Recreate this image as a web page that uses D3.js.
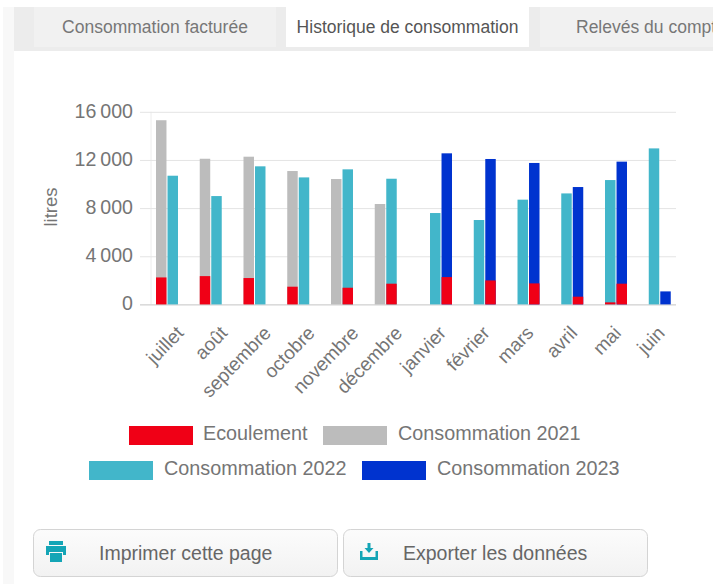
<!DOCTYPE html>
<html><head><meta charset="utf-8">
<script src="https://cdnjs.cloudflare.com/ajax/libs/d3/7.8.5/d3.min.js"></script>
<style>
html,body{margin:0;padding:0;background:#fff;overflow:hidden}
svg{display:block;font-family:"Liberation Sans",Arial,sans-serif}
</style></head><body><svg id="c" width="713" height="584"></svg>
<script>
const months=["juillet","août","septembre","octobre","novembre","décembre","janvier","février","mars","avril","mai","juin"];
const conso2021=[15300,12100,12270,11080,10415,8340,null,null,null,null,null,null];
const conso2022=[10690,9000,11470,10550,11220,10440,7590,7010,8700,9220,10330,12960];
const conso2023=[null,null,null,null,null,null,12550,12080,11750,9750,11860,1080];
const ecoulement2021=[2240,2350,2190,1470,null,null,null,null,null,null,null,null];
const ecoulement2022=[null,null,null,null,1385,1720,null,null,null,null,170,null];
const ecoulement2023=[null,null,null,null,null,null,2270,1990,1745,640,1720,null];
const yTicks=[0,4000,8000,12000,16000];
const tabs=["Consommation facturée","Historique de consommation","Relevés du compteur"];
const buttons=["Imprimer cette page","Exporter les données"];
const legendItems=[["Ecoulement","#f00016"],["Consommation 2021","#bcbcbc"],["Consommation 2022","#42b6ca"],["Consommation 2023","#0033cf"]];

const svg=d3.select("#c");
const textCol="#757575";
// page furniture
svg.append("rect").attr("width",713).attr("height",584).attr("fill","#fff");
svg.append("rect").attr("x",3).attr("width",11).attr("height",584).attr("fill","#f8f8f8");
svg.append("rect").attr("x",0).attr("y",0).attr("width",713).attr("height",7).attr("fill","#fff");
svg.append("rect").attr("x",14).attr("y",7).attr("width",699).attr("height",44).attr("fill","#ececec");
const tabX=[[34,276],[286,529],[540,713]];
tabs.forEach((t,i)=>{
  svg.append("rect").attr("x",tabX[i][0]).attr("y",7).attr("width",tabX[i][1]-tabX[i][0]).attr("height",40)
    .attr("fill",i==1?"#fff":"#f1f1f1");
  svg.append("text").attr("x",i==2?576:(tabX[i][0]+tabX[i][1])/2).attr("y",32.500)
    .attr("text-anchor",i==2?"start":"middle").attr("font-size",17.500)
    .attr("fill",i==1?"#555":"#777").text(t);
});

const x=d3.scaleBand().domain(months).range([151,676]);
const inner=d3.scaleBand().domain(["a","b","c"]).range([5,38.5]).paddingInner(0.09);
const y=d3.scaleLinear().domain([0,16000]).range([304.4,111.8]);

const g=svg.append("g");
g.append("line").attr("x1",151).attr("x2",151).attr("y1",y(16000)).attr("y2",y(0)).attr("stroke","#ececec");
g.append("g").attr("class","y")
 .attr("transform","translate(676,0)")
 .call(d3.axisLeft(y).tickValues(yTicks).tickSize(536).tickPadding(7).tickFormat(d=>d3.format(",")(d).replace(",","\u2009")))
 .call(a=>a.select(".domain").remove())
 .call(a=>a.selectAll("line").attr("stroke",d=>d==0?"#c4c4c4":"#e4e4e4"))
 .call(a=>a.selectAll("text").attr("fill",textCol).attr("font-size",19.6).attr("dy","0.27em"));
function bars(vals,key,col){
  g.append("g").selectAll("rect").data(months.map((m,i)=>({m,v:vals[i]})).filter(d=>d.v!=null))
   .join("rect").attr("x",d=>x(d.m)+inner(key)).attr("width",inner.bandwidth())
   .attr("y",d=>y(d.v)).attr("height",d=>y(0)-y(d.v)).attr("fill",col);
}
bars(conso2021,"a","#bcbcbc");
bars(conso2022,"b","#42b6ca");
bars(conso2023,"c","#0033cf");
bars(ecoulement2021,"a","#f00016");
bars(ecoulement2022,"b","#f00016");
bars(ecoulement2023,"c","#f00016");
g.append("g").attr("transform",`translate(0,${y(0)})`)
 .call(d3.axisBottom(x).tickSize(0).tickPadding(0))
 .call(a=>a.select(".domain").remove())
 .call(a=>a.selectAll("text").attr("fill",textCol).attr("font-size",19).attr("text-anchor","end")
   .attr("transform","translate(7,25) rotate(-46)").attr("dy","0.35em"));
svg.append("text").attr("transform","translate(51,207) rotate(-90)").attr("text-anchor","middle")
  .attr("dy","0.35em").attr("font-size",18.500).attr("fill",textCol).text("litres");
// legend
const lp=[[129,425,203],[323,425,398],[89,460,164],[362,460,437]];
legendItems.forEach((l,i)=>{
  svg.append("rect").attr("x",lp[i][0]).attr("y",lp[i][1]+1).attr("width",64).attr("height",19).attr("fill",l[1]);
  svg.append("text").attr("x",lp[i][2]).attr("y",lp[i][1]+8).attr("dy","0.35em").attr("font-size",19.800).attr("fill",textCol).text(l[0]);
});
// buttons
const bx=[[33,338,99],[343,648,403]];
const grad=svg.append("defs").append("linearGradient").attr("id","bg").attr("x1",0).attr("x2",0).attr("y1",0).attr("y2",1);
grad.append("stop").attr("offset",0).attr("stop-color","#fcfcfc");
grad.append("stop").attr("offset",1).attr("stop-color","#f2f2f2");
buttons.forEach((b,i)=>{
  svg.append("rect").attr("x",bx[i][0]+.5).attr("y",529.5).attr("width",bx[i][1]-bx[i][0]-1).attr("height",47).attr("rx",7)
    .attr("fill","url(#bg)").attr("stroke","#d4d4d4");
  svg.append("text").attr("x",bx[i][2]).attr("y",560).attr("font-size",19.500).attr("fill","#666").text(b);
});
const ic="#14a5b6";
svg.append("path").attr("fill",ic).attr("d","M49 541h14v4h-14zM46 546h20v9h-3v-3h-14v3h-3zM50 553h12v9h-12z");
svg.append("path").attr("fill",ic).attr("d","M360 551v9h18v-9h-2.500v6h-13v-6zM367.500 543h3v5h3l-4.500 5l-4.500-5h3z");
</script></body></html>
